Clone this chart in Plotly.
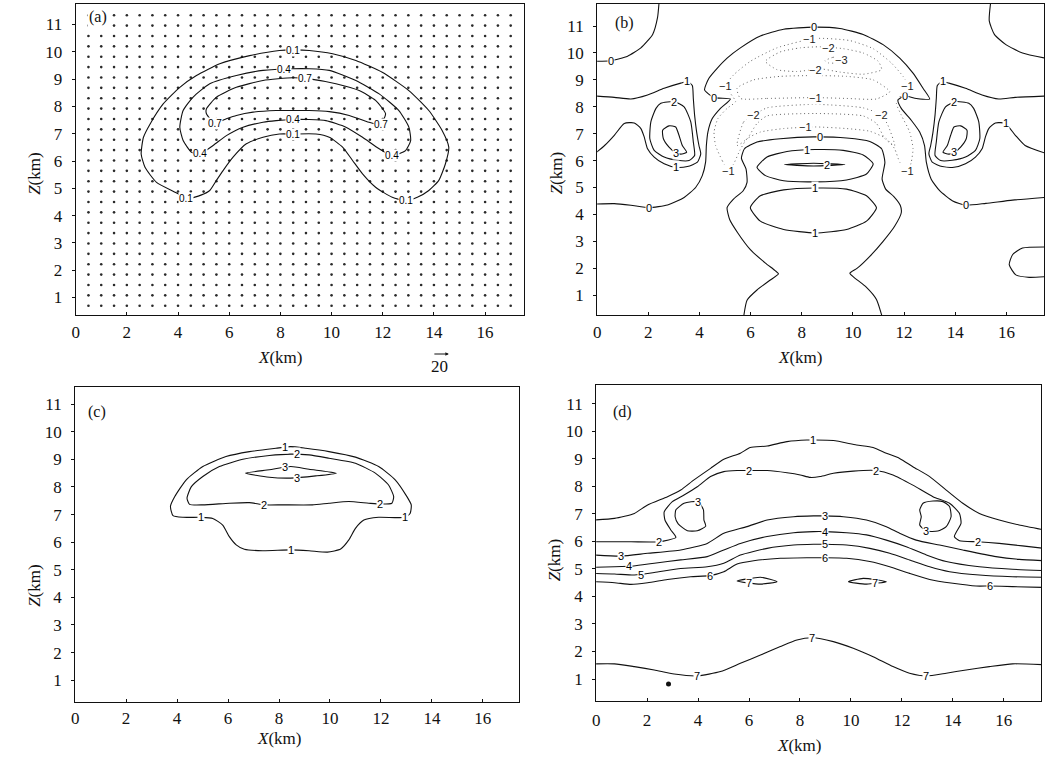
import plotly.graph_objects as go

FONT_SERIF = "Liberation Serif"
FONT_SANS = "Liberation Sans"
INK = "#111111"
W, H = 1045, 760

X_TICKS = [0, 2, 4, 6, 8, 10, 12, 14, 16]
Z_TICKS = [1, 2, 3, 4, 5, 6, 7, 8, 9, 10, 11]

# ---------------- (a) wind-vector grid and contours ----------------
A_VEC_X = [0.5, 1.0, 1.5, 2.0, 2.5, 3.0, 3.5, 4.0, 4.5, 5.0, 5.5, 6.0, 6.5, 7.0,
           7.5, 8.0, 8.5, 9.0, 9.5, 10.0, 10.5, 11.0, 11.5, 12.0, 12.5, 13.0,
           13.5, 14.0, 14.5, 15.0, 15.5, 16.0, 16.5, 17.0]
A_VEC_Z = [0.70, 1.08, 1.46, 1.84, 2.22, 2.60, 2.98, 3.36, 3.74, 4.12, 4.50,
           4.88, 5.26, 5.64, 6.02, 6.40, 6.78, 7.16, 7.54, 7.92, 8.30, 8.68,
           9.06, 9.44, 9.82, 10.20, 10.58, 10.96, 11.34]

A_LEVEL_01 = [(4.33, 4.61), (4.01, 4.80), (3.16, 5.22), (2.71, 5.77), (2.56, 6.26),
              (2.65, 6.87), (2.91, 7.36), (3.42, 8.09), (4.07, 8.70), (4.72, 9.13),
              (5.63, 9.56), (6.80, 9.86), (7.96, 10.05), (8.48, 10.07), (9.13, 10.05),
              (10.04, 9.93), (10.95, 9.68), (11.98, 9.25), (13.02, 8.58), (13.80, 7.85),
              (14.32, 7.12), (14.58, 6.51), (14.45, 5.90), (14.19, 5.29), (13.80, 4.92),
              (13.35, 4.67), (12.89, 4.55), (12.37, 4.67), (11.72, 5.04), (11.21, 5.53),
              (10.82, 6.02), (10.43, 6.51), (9.91, 6.87), (9.39, 6.99), (8.48, 6.99),
              (7.96, 6.99), (7.32, 6.87), (6.67, 6.63), (6.15, 6.14), (5.76, 5.65),
              (5.50, 5.29), (5.24, 4.92), (4.92, 4.76)]
A_LEVEL_04 = [(4.85, 6.26), (4.53, 6.32), (4.20, 6.75), (4.07, 7.24), (4.20, 7.85),
              (4.59, 8.34), (5.24, 8.83), (6.28, 9.13), (7.32, 9.32), (8.48, 9.38),
              (9.13, 9.38), (9.91, 9.32), (10.95, 8.95), (11.86, 8.46), (12.63, 7.85),
              (13.02, 7.24), (13.09, 6.75), (12.89, 6.38), (12.37, 6.20), (11.86, 6.45),
              (11.21, 6.87), (10.56, 7.24), (9.78, 7.48), (9.13, 7.52), (8.48, 7.52),
              (7.83, 7.48), (7.32, 7.42), (6.54, 7.24), (5.89, 6.93), (5.37, 6.57)]
A_LEVEL_07 = [(5.43, 7.39), (5.11, 7.73), (5.11, 7.91), (5.50, 8.34), (6.28, 8.70),
              (7.32, 8.95), (8.48, 9.05), (9.13, 9.01), (10.17, 8.83), (11.08, 8.58),
              (11.72, 8.22), (12.11, 7.73), (11.92, 7.34), (11.46, 7.42), (10.69, 7.67),
              (9.91, 7.81), (9.13, 7.85), (8.48, 7.85), (7.83, 7.85), (6.93, 7.79),
              (6.28, 7.67), (5.89, 7.55)]
A_LABELS = [(8.48, 10.06, "0.1"), (4.33, 4.61, "0.1"), (12.89, 4.55, "0.1"), (8.48, 6.99, "0.1"),
            (8.15, 9.36, "0.4"), (4.85, 6.26, "0.4"), (12.37, 6.20, "0.4"), (8.48, 7.52, "0.4"),
            (8.95, 9.03, "0.7"), (5.43, 7.39, "0.7"), (11.92, 7.34, "0.7")]

# ---------------- (b) ----------------
B_TOPLEFT_0 = [(2.43, 12.0), (2.36, 11.31), (2.17, 10.69), (1.71, 10.19), (1.19, 9.88),
               (0.54, 9.71), (-0.1, 9.69)]
B_TOPRIGHT_0 = [(15.40, 12.0), (15.33, 11.19), (15.53, 10.69), (15.98, 10.31),
                (16.63, 10.0), (17.6, 9.79)]
B_OUTER_0 = [(-0.1, 4.38), (0.67, 4.40), (1.32, 4.34), (2.04, 4.25), (2.75, 4.35),
             (3.40, 4.63), (3.85, 5.00), (4.11, 5.44), (4.24, 5.94), (4.27, 6.56),
             (4.33, 7.06), (4.50, 7.56), (4.82, 7.94), (5.21, 8.29), (4.57, 8.34),
             (4.20, 8.63), (4.37, 9.06), (4.70, 9.44), (5.08, 9.81), (5.60, 10.19),
             (6.38, 10.63), (7.29, 10.88), (8.46, 10.96), (9.49, 10.91), (10.40, 10.69),
             (11.18, 10.31), (11.83, 9.81), (12.35, 9.25), (12.74, 8.69), (13.00, 8.29),
             (12.48, 8.31), (12.02, 8.40), (11.76, 8.25), (11.89, 7.94), (12.28, 7.50),
             (12.61, 7.06), (12.80, 6.56), (12.87, 5.94), (13.06, 5.31), (13.39, 4.88),
             (13.90, 4.50), (14.42, 4.34), (15.20, 4.41), (16.24, 4.53), (17.6, 4.64)]
B_VASE_0 = [(5.70, 0.0), (5.86, 0.81), (6.25, 1.19), (6.77, 1.56), (7.09, 1.79),
            (6.96, 1.91), (6.58, 2.19), (5.99, 2.69), (5.50, 3.31), (5.18, 3.81),
            (5.08, 4.25), (5.32, 4.56), (5.71, 4.88), (5.86, 5.19), (5.82, 5.69),
            (5.64, 6.09), (5.76, 6.44), (6.25, 6.69), (7.16, 6.81), (8.46, 6.88),
            (9.75, 6.84), (10.66, 6.71), (11.12, 6.44), (11.25, 5.94), (11.14, 5.31),
            (11.28, 4.94), (11.60, 4.66), (11.85, 4.34), (11.89, 4.06), (11.63, 3.56),
            (11.18, 3.00), (10.66, 2.44), (10.17, 2.00), (9.88, 1.81), (10.04, 1.66),
            (10.53, 1.29), (10.92, 0.84), (11.20, 0.0)]
B_UPPER_1 = [(6.25, 5.75), (6.64, 6.13), (7.42, 6.34), (8.52, 6.41), (9.62, 6.38),
             (10.40, 6.21), (10.79, 5.88), (10.53, 5.50), (9.75, 5.28), (8.52, 5.21),
             (7.29, 5.25), (6.58, 5.44)]
B_LOWER_1 = [(5.99, 4.25), (6.38, 4.69), (7.29, 4.91), (8.52, 4.98), (9.75, 4.94),
             (10.53, 4.69), (10.92, 4.25), (10.53, 3.75), (9.75, 3.44), (8.52, 3.31),
             (7.29, 3.44), (6.38, 3.75)]
B_CORE_2 = [(7.32, 5.85), (8.46, 5.90), (9.69, 5.85), (8.46, 5.80)]
B_CORNER_LOW = [(17.6, 2.79), (16.63, 2.75), (16.24, 2.50), (16.11, 2.13), (16.37, 1.75),
                (16.89, 1.66), (17.6, 1.69)]
B_LEFT_1 = [(-0.1, 8.40), (0.67, 8.35), (1.32, 8.29), (1.97, 8.44), (2.62, 8.69),
            (3.27, 8.88), (3.53, 8.94), (3.72, 8.79), (3.76, 8.31), (3.81, 7.69),
            (3.89, 7.06), (3.98, 6.56), (4.05, 6.25), (3.92, 5.94), (3.53, 5.78),
            (3.07, 5.75), (2.62, 5.88), (2.23, 6.13), (1.97, 6.44), (1.84, 6.88),
            (1.71, 7.19), (1.45, 7.40), (1.06, 7.38), (0.67, 6.94), (0.29, 6.56),
            (-0.1, 6.25)]
B_LEFT_2 = [(2.49, 8.13), (3.01, 8.19), (3.40, 8.00), (3.66, 7.44), (3.76, 6.69),
            (3.81, 6.19), (3.59, 6.00), (3.14, 6.01), (2.62, 6.13), (2.23, 6.38),
            (2.06, 6.81), (2.10, 7.44), (2.30, 7.94)]
B_LEFT_3 = [(2.56, 7.13), (2.81, 7.29), (3.07, 7.25), (3.20, 6.94), (3.33, 6.56),
            (3.50, 6.31), (3.27, 6.24), (3.07, 6.29), (2.81, 6.50), (2.59, 6.81)]
B_RIGHT_1 = [(17.6, 8.40), (16.35, 8.35), (15.70, 8.29), (15.05, 8.44), (14.40, 8.69),
             (13.75, 8.88), (13.49, 8.94), (13.30, 8.79), (13.26, 8.31), (13.21, 7.69),
             (13.13, 7.06), (13.04, 6.56), (12.97, 6.25), (13.10, 5.94), (13.49, 5.78),
             (13.95, 5.75), (14.40, 5.88), (14.79, 6.13), (15.05, 6.44), (15.18, 6.88),
             (15.31, 7.19), (15.57, 7.40), (15.96, 7.38), (16.35, 6.94), (16.73, 6.56),
             (17.6, 6.25)]
B_RIGHT_2 = [(14.53, 8.13), (14.01, 8.19), (13.62, 8.00), (13.36, 7.44), (13.26, 6.69),
             (13.21, 6.19), (13.43, 6.00), (13.88, 6.01), (14.40, 6.13), (14.79, 6.38),
             (14.96, 6.81), (14.92, 7.44), (14.72, 7.94)]
B_RIGHT_3 = [(14.46, 7.13), (14.21, 7.29), (13.95, 7.25), (13.82, 6.94), (13.69, 6.56),
             (13.52, 6.31), (13.75, 6.24), (13.95, 6.29), (14.21, 6.50), (14.43, 6.81)]
# negative (dotted) levels inside the dome
B_NEG1_ARCH = [(5.15, 5.60), (4.89, 6.00), (4.63, 6.56), (4.57, 7.06), (4.72, 7.56),
               (5.08, 7.94), (5.41, 8.19), (5.21, 8.50), (5.02, 8.79), (5.34, 9.19),
               (5.99, 9.69), (7.03, 10.19), (8.52, 10.54), (9.88, 10.46), (10.79, 10.16),
               (11.50, 9.63), (11.96, 9.13), (12.15, 8.79), (11.89, 8.44), (11.70, 8.13),
               (11.89, 7.69), (12.22, 7.06), (12.35, 6.44), (12.28, 5.94), (12.15, 5.60),
               (11.83, 5.94), (11.63, 6.44), (11.31, 6.81), (10.66, 7.09), (9.75, 7.19),
               (8.52, 7.25), (7.29, 7.19), (6.38, 7.06), (5.86, 6.81), (5.58, 6.38),
               (5.37, 5.94)]
B_NEG1_MID = [(5.60, 8.31), (6.64, 8.31), (8.52, 8.34), (9.75, 8.31), (10.92, 8.29),
              (11.44, 8.56), (10.79, 9.00), (9.75, 9.13), (8.46, 9.16), (7.16, 9.13),
              (6.12, 9.00), (5.47, 8.69)]
B_NEG2_TOP = [(6.58, 9.69), (7.16, 10.04), (7.94, 10.19), (8.72, 10.23), (9.62, 10.16),
              (10.40, 10.00), (10.99, 9.69), (11.12, 9.38), (10.40, 9.21), (9.49, 9.29),
              (8.72, 9.41), (7.81, 9.31), (7.03, 9.38)]
B_NEG3 = [(8.91, 9.71), (9.23, 9.84), (9.62, 9.81), (9.75, 9.71), (9.43, 9.63), (9.04, 9.63)]
B_NEG2_LOW = [(5.47, 6.56), (5.73, 7.44), (6.12, 7.69), (6.64, 7.96), (8.52, 8.09),
              (10.40, 7.96), (11.12, 7.69), (11.37, 7.31), (11.63, 6.56), (11.25, 6.81),
              (10.92, 7.38), (10.40, 7.66), (8.52, 7.75), (6.64, 7.66), (6.25, 7.38),
              (5.86, 6.81)]
B_LABELS = [(0.54, 9.71, "0"), (2.04, 4.25, "0"), (4.57, 8.34, "0"), (8.46, 10.96, "0"),
            (12.02, 8.40, "0"), (14.42, 4.34, "0"), (8.70, 6.87, "0"),
            (8.20, 6.40, "1"), (8.98, 5.85, "2"), (8.52, 4.98, "1"), (8.52, 3.31, "1"),
            (3.53, 8.94, "1"), (3.07, 5.75, "1"), (3.01, 8.19, "2"), (3.07, 6.29, "3"),
            (13.51, 8.94, "1"), (15.98, 7.38, "1"), (13.97, 8.19, "2"), (13.97, 6.31, "3")]
B_NEG_LABELS = [(5.15, 5.60, "\u22121"), (5.02, 8.79, "\u22121"), (8.30, 10.52, "\u22121"),
                (12.15, 8.79, "\u22121"), (12.15, 5.60, "\u22121"), (8.15, 7.23, "\u22121"),
                (8.52, 8.34, "\u22121"), (9.05, 10.20, "\u22122"), (8.55, 9.38, "\u22122"),
                (6.12, 7.69, "\u22122"), (11.12, 7.69, "\u22122"), (9.55, 9.75, "\u22123")]

# ---------------- (c) ----------------
C_LEVEL_1 = [(3.74, 7.29), (3.84, 6.96), (4.23, 6.90), (4.95, 6.90), (5.40, 6.86),
             (5.79, 6.62), (6.05, 6.20), (6.32, 5.90), (6.64, 5.74), (7.36, 5.69),
             (8.46, 5.72), (9.18, 5.69), (9.90, 5.64), (10.42, 5.75), (10.74, 6.08),
             (11.00, 6.50), (11.33, 6.80), (11.91, 6.90), (12.96, 6.90), (13.15, 7.05),
             (13.19, 7.35), (13.02, 7.65), (12.56, 8.26), (11.91, 8.74), (11.00, 9.08),
             (9.96, 9.28), (9.05, 9.40), (8.46, 9.46), (7.88, 9.40), (6.84, 9.28),
             (5.92, 9.10), (5.01, 8.74), (4.36, 8.26), (3.91, 7.65)]
C_LEVEL_2 = [(8.46, 9.19), (7.62, 9.14), (6.58, 9.00), (5.66, 8.74), (5.01, 8.38),
             (4.56, 8.01), (4.39, 7.59), (4.49, 7.37), (5.01, 7.35), (6.05, 7.41),
             (6.84, 7.43), (7.42, 7.35), (8.14, 7.35), (9.31, 7.35), (9.96, 7.41),
             (10.74, 7.47), (11.52, 7.41), (11.98, 7.38), (12.43, 7.41), (12.50, 7.65),
             (12.30, 8.07), (11.78, 8.50), (11.00, 8.86), (9.96, 9.04), (9.18, 9.16)]
C_LEVEL_3 = [(6.68, 8.50), (7.62, 8.62), (8.46, 8.74), (9.18, 8.64), (10.25, 8.50),
             (9.44, 8.40), (8.46, 8.32), (7.62, 8.35)]
C_LABELS = [(8.25, 9.44, "1"), (4.95, 6.90, "1"), (12.96, 6.90, "1"), (8.46, 5.72, "1"),
            (8.70, 9.18, "2"), (7.42, 7.35, "2"), (11.98, 7.38, "2"),
            (8.25, 8.72, "3"), (8.70, 8.33, "3")]

# ---------------- (d) ----------------
D_LEVEL_1 = [(-0.1, 6.78), (0.72, 6.84), (1.50, 7.02), (2.02, 7.33), (2.80, 7.63),
             (3.32, 7.87), (3.84, 8.24), (4.49, 8.66), (5.01, 8.99), (5.66, 9.21),
             (6.05, 9.42), (6.71, 9.47), (7.49, 9.63), (8.27, 9.69), (8.53, 9.69),
             (9.31, 9.67), (10.22, 9.51), (10.87, 9.42), (11.39, 9.21), (11.91, 9.02),
             (12.43, 8.72), (13.09, 8.36), (13.74, 7.87), (14.39, 7.39), (15.04, 7.02),
             (15.82, 6.78), (16.60, 6.60), (17.6, 6.42)]
D_LEVEL_2 = [(-0.1, 5.99), (1.37, 5.99), (2.47, 5.99), (3.13, 6.15), (2.93, 6.42),
             (2.70, 6.78), (2.67, 7.08), (2.99, 7.45), (3.45, 7.69), (3.97, 7.99),
             (4.49, 8.36), (5.01, 8.54), (5.53, 8.58), (5.99, 8.58), (6.71, 8.58),
             (7.49, 8.50), (8.01, 8.42), (8.40, 8.33), (8.79, 8.36), (9.31, 8.48),
             (10.09, 8.56), (10.98, 8.58), (11.65, 8.42), (12.43, 8.05), (13.22, 7.63),
             (13.87, 7.39), (14.26, 7.02), (14.32, 6.66), (14.06, 6.18), (14.26, 6.03),
             (14.97, 5.99), (15.82, 5.93), (16.73, 5.84), (17.6, 5.75)]
D_LEVEL_3_LEFT = [(3.13, 7.15), (3.45, 7.39), (4.00, 7.45), (4.21, 7.15), (4.23, 6.78),
                  (4.30, 6.56), (3.97, 6.39), (3.58, 6.39), (3.22, 6.64), (3.10, 6.90)]
D_LEVEL_3_RIGHT = [(12.83, 7.39), (13.22, 7.47), (13.61, 7.45), (13.87, 7.27), (13.93, 6.90),
                   (13.74, 6.54), (13.41, 6.38), (12.96, 6.38), (12.70, 6.60), (12.76, 6.90),
                   (12.70, 7.15)]
D_LEVEL_3 = [(-0.1, 5.51), (0.98, 5.47), (2.02, 5.57), (3.32, 5.69), (4.36, 5.93),
             (5.01, 6.30), (5.92, 6.54), (6.71, 6.78), (7.75, 6.90), (8.53, 6.93),
             (8.98, 6.93), (9.70, 6.90), (10.61, 6.78), (11.39, 6.54), (11.91, 6.30),
             (12.56, 6.05), (13.48, 5.87), (14.39, 5.69), (15.69, 5.45), (16.60, 5.35),
             (17.6, 5.30)]
D_LEVEL_4 = [(-0.1, 5.06), (0.72, 5.08), (1.47, 5.11), (2.28, 5.21), (3.32, 5.33),
             (4.36, 5.45), (5.01, 5.69), (5.66, 5.93), (6.71, 6.18), (7.75, 6.32),
             (8.53, 6.36), (8.98, 6.36), (9.83, 6.32), (10.61, 6.24), (11.39, 6.05),
             (12.17, 5.81), (12.96, 5.51), (13.74, 5.27), (15.04, 5.08), (16.34, 4.99),
             (17.6, 4.94)]
D_LEVEL_5 = [(-0.1, 4.84), (0.72, 4.82), (1.50, 4.78), (2.28, 4.87), (3.32, 5.02),
             (4.36, 5.08), (5.01, 5.21), (5.66, 5.51), (6.71, 5.75), (7.75, 5.87),
             (8.53, 5.90), (8.98, 5.90), (9.83, 5.87), (10.74, 5.75), (11.52, 5.57),
             (12.30, 5.33), (13.09, 5.08), (13.87, 4.90), (15.04, 4.78), (16.34, 4.72),
             (17.6, 4.70)]
D_LEVEL_6 = [(-0.1, 4.54), (0.72, 4.50), (1.37, 4.44), (2.02, 4.50), (2.80, 4.62),
             (3.71, 4.72), (4.47, 4.76), (5.01, 4.90), (5.53, 5.18), (6.18, 5.30),
             (7.23, 5.39), (8.27, 5.41), (8.98, 5.41), (9.83, 5.39), (10.74, 5.27),
             (11.52, 5.08), (12.30, 4.84), (13.09, 4.62), (14.00, 4.48), (14.91, 4.38),
             (15.46, 4.38), (16.34, 4.36), (17.6, 4.33)]
D_LEVEL_7_LEFT = [(5.53, 4.56), (6.45, 4.70), (7.10, 4.54), (6.45, 4.45)]
D_LEVEL_7_RIGHT = [(9.90, 4.54), (10.48, 4.66), (11.39, 4.54), (10.61, 4.45)]
D_LEVEL_7_LOW = [(-0.1, 1.55), (0.72, 1.55), (1.50, 1.45), (2.28, 1.33), (3.06, 1.18),
                 (3.97, 1.11), (4.88, 1.27), (5.66, 1.57), (6.45, 1.87), (7.23, 2.18),
                 (7.88, 2.42), (8.49, 2.50), (9.31, 2.36), (10.09, 2.12), (10.87, 1.81),
                 (11.65, 1.45), (12.30, 1.21), (12.96, 1.11), (13.74, 1.21), (14.52, 1.33),
                 (15.43, 1.45), (16.34, 1.55), (17.6, 1.52)]
D_POINT = (2.84, 0.82)
D_LABELS = [(8.53, 9.69, "1"), (2.47, 5.99, "2"), (5.99, 8.58, "2"), (10.98, 8.58, "2"),
            (14.97, 5.99, "2"), (4.00, 7.45, "3"), (12.96, 6.38, "3"), (0.98, 5.47, "3"),
            (8.98, 6.93, "3"), (1.30, 5.10, "4"), (8.98, 6.36, "4"), (1.75, 4.79, "5"),
            (8.98, 5.90, "5"), (4.47, 4.76, "6"), (8.98, 5.41, "6"), (15.46, 4.38, "6"),
            (5.99, 4.48, "7"), (10.94, 4.48, "7"), (3.97, 1.11, "7"), (8.49, 2.50, "7"),
            (12.96, 1.11, "7")]

# ---------------- panel geometry (pixels of the page) ----------------
PANELS = {
    "a": dict(n="", left=72, right=522, top=3.5, bottom=315, xr=[0, 17.5], zr=[0.36, 11.77], xs=1),
    "b": dict(n="2", left=596, right=1045, top=4, bottom=315, xr=[0, 17.47], zr=[0.26, 11.82], xs=1),
    "c": dict(n="3", left=71.5, right=517, top=387, bottom=702, xr=[0, 17.4], zr=[0.21, 11.62], xs=0),
    "d": dict(n="4", left=595, right=1042, top=385, bottom=701, xr=[0, 17.46], zr=[0.2, 11.69], xs=3),
}

fig = go.Figure()
annotations = []


def refs(key):
    n = PANELS[key]["n"]
    return "x" + n, "y" + n


def add_curve(key, pts, closed=False, dash="solid", color=INK, width=1.1):
    xs = [p[0] for p in pts]
    zs = [p[1] for p in pts]
    if closed:
        xs.append(xs[0])
        zs.append(zs[0])
    xa, ya = refs(key)
    fig.add_trace(go.Scatter(
        x=xs, y=zs, mode="lines", xaxis=xa, yaxis=ya,
        line=dict(color=color, width=width, dash=dash, shape="spline", smoothing=0.55),
        hoverinfo="skip", showlegend=False))


def add_labels(key, labels, color="black", size=11):
    xa, ya = refs(key)
    for x, z, t in labels:
        annotations.append(dict(
            x=x, y=z, xref=xa, yref=ya, text=t, showarrow=False,
            font=dict(family=FONT_SANS, size=size, color=color),
            bgcolor="white", borderpad=0, xanchor="center", yanchor="middle"))


# (a) vectors are tiny at this scale: drawn as a grid of points
vx, vz = [], []
for z in A_VEC_Z:
    for x in A_VEC_X:
        vx.append(x)
        vz.append(z)
fig.add_trace(go.Scatter(x=vx, y=vz, mode="markers", xaxis="x", yaxis="y",
                         marker=dict(size=2.6, color="#2a2a2a", line=dict(width=0)),
                         hoverinfo="skip", showlegend=False))
for c in (A_LEVEL_01, A_LEVEL_04, A_LEVEL_07):
    add_curve("a", c, closed=True)
add_labels("a", A_LABELS, size=10)

# (b)
for c in (B_TOPLEFT_0, B_TOPRIGHT_0, B_OUTER_0, B_VASE_0, B_CORNER_LOW, B_LEFT_1, B_RIGHT_1):
    add_curve("b", c)
for c in (B_UPPER_1, B_LOWER_1, B_CORE_2, B_LEFT_2, B_LEFT_3, B_RIGHT_2, B_RIGHT_3):
    add_curve("b", c, closed=True)
for c in (B_NEG1_ARCH, B_NEG1_MID, B_NEG2_TOP, B_NEG3, B_NEG2_LOW):
    add_curve("b", c, closed=True, dash="1px,3px", color="#666666", width=1.0)
add_labels("b", B_LABELS)
add_labels("b", B_NEG_LABELS, color="#222222")

# (c)
for c in (C_LEVEL_1, C_LEVEL_2, C_LEVEL_3):
    add_curve("c", c, closed=True)
add_labels("c", C_LABELS)

# (d)
for c in (D_LEVEL_1, D_LEVEL_2, D_LEVEL_3, D_LEVEL_4, D_LEVEL_5, D_LEVEL_6, D_LEVEL_7_LOW):
    add_curve("d", c)
for c in (D_LEVEL_3_LEFT, D_LEVEL_3_RIGHT, D_LEVEL_7_LEFT, D_LEVEL_7_RIGHT):
    add_curve("d", c, closed=True)
fig.add_trace(go.Scatter(x=[D_POINT[0]], y=[D_POINT[1]], mode="markers", xaxis="x4", yaxis="y4",
                         marker=dict(size=5, color=INK), hoverinfo="skip", showlegend=False))
add_labels("d", D_LABELS)

# axes
layout_axes = {}
for key, p in PANELS.items():
    n = p["n"]
    xa_name, ya_name = "xaxis" + n, "yaxis" + n
    common = dict(showline=True, mirror=True, linecolor=INK, linewidth=1.2,
                  showgrid=False, zeroline=False, ticklen=3, tickcolor=INK, tickwidth=1,
                  tickfont=dict(family=FONT_SERIF, size=17, color=INK))
    layout_axes[xa_name] = dict(common, domain=[p["left"] / W, p["right"] / W], range=p["xr"],
                                anchor="y" + n, tickvals=X_TICKS, ticks="inside",
                                ticklabelstandoff=p["xs"])
    layout_axes[ya_name] = dict(common, domain=[1 - p["bottom"] / H, 1 - p["top"] / H],
                                range=p["zr"], anchor="x" + n, tickvals=Z_TICKS,
                                ticks="outside", ticklabelstandoff=6)

# panel letters and axis titles
TITLE_FONT = dict(family=FONT_SERIF, size=17, color=INK)
for txt, px, py in (("(a)", 83, 17), ("(b)", 612, 23), ("(c)", 82, 412), ("(d)", 610, 412)):
    annotations.append(dict(x=px / W, y=1 - py / H, xref="paper", yref="paper", text=txt,
                            showarrow=False, xanchor="left", yanchor="middle",
                            bgcolor="white", borderpad=1,
                            font=dict(family=FONT_SERIF, size=16, color=INK)))
for px, py in ((277, 357), (800, 357), (276, 738), (799, 745)):
    annotations.append(dict(x=px / W, y=1 - py / H, xref="paper", yref="paper",
                            text="<i>X</i>(km)", showarrow=False, font=TITLE_FONT,
                            xanchor="center", yanchor="middle"))
for px, py in ((30, 173), (555, 173), (30, 585), (553, 560)):
    annotations.append(dict(x=px / W, y=1 - py / H, xref="paper", yref="paper",
                            text="<i>Z</i>(km)", showarrow=False, textangle=-90, font=TITLE_FONT,
                            xanchor="center", yanchor="middle"))

# reference vector
annotations.append(dict(x=438 / W, y=1 - 366 / H, xref="paper", yref="paper", text="20",
                        showarrow=False, font=TITLE_FONT, xanchor="center", yanchor="middle"))
annotations.append(dict(x=447 / W, y=1 - 354 / H, xref="paper", yref="paper", text="",
                        showarrow=True, ax=-16, ay=0, arrowhead=2, arrowsize=0.7,
                        arrowwidth=1, arrowcolor=INK))

fig.update_layout(width=W, height=H, margin=dict(l=0, r=0, t=0, b=0),
                  paper_bgcolor="white", plot_bgcolor="white",
                  annotations=annotations, **layout_axes)

fig.write_html("out.html")
